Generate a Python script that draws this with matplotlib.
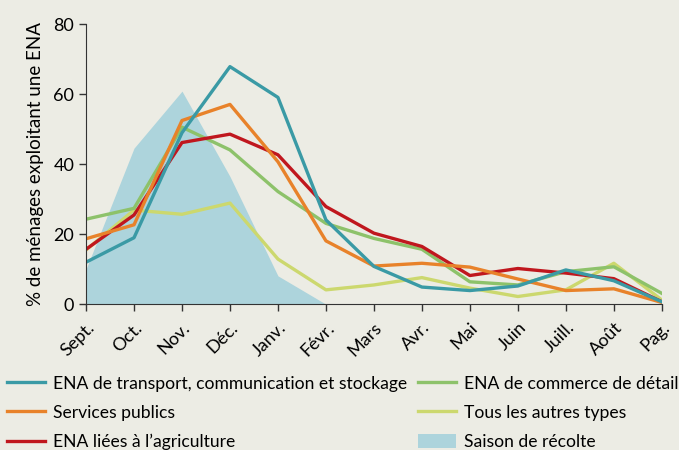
import matplotlib
matplotlib.use('Agg')
import matplotlib.pyplot as plt

plt.rcParams['font.family'] = ['Lato', 'DejaVu Sans']

# Months of the year plus "Pag." (paddy season?)
mois = ['Sept.', 'Oct.', 'Nov.', 'Déc.', 'Janv.', 'Févr.', 'Mars', 'Avr.',
        'Mai', 'Juin', 'Juill.', 'Août', 'Pag.']

# % of households running a non-agricultural enterprise (ENA), by type
transport = [12.0, 19.0, 49.0, 67.9, 59.1, 24.1, 10.8, 4.9, 3.9, 5.2, 9.8, 6.7, 0.7]
services = [18.7, 22.7, 52.5, 57.1, 40.7, 18.1, 10.9, 11.7, 10.6, 7.2, 3.9, 4.4, 0.5]
agriculture = [15.7, 25.5, 46.2, 48.6, 42.7, 27.9, 20.3, 16.5, 8.2, 10.2, 8.9, 7.3, 0.7]
commerce = [24.3, 27.4, 50.6, 44.1, 32.2, 23.1, 18.8, 15.7, 6.4, 5.5, 9.3, 10.7, 3.1]
autres = [15.5, 26.9, 25.7, 28.9, 12.9, 4.1, 5.5, 7.6, 4.6, 2.2, 4.1, 11.7, 1.2]
# harvest season (shaded area)
recolte = [10.0, 44.6, 60.9, 36.5, 8.1, 0, 0, 0, 0, 0, 0, 0, 0]

bg = '#ecece4'
fig = plt.figure(figsize=(6.79, 4.5), dpi=100, facecolor=bg)
ax = fig.add_axes([0.1267, 0.324, 0.848, 0.622], facecolor=bg)

x = list(range(len(mois)))
area = ax.fill_between(x, recolte, 0, color='#add4dc', lw=0, label='Saison de récolte')
l1, = ax.plot(x, transport, color='#3a9aa5', lw=2.4, label='ENA de transport, communication et stockage')
l2, = ax.plot(x, services, color='#e8822a', lw=2.4, label='Services publics')
l3, = ax.plot(x, agriculture, color='#c0171e', lw=2.4, label='ENA liées à l’agriculture')
l4, = ax.plot(x, commerce, color='#8dc26a', lw=2.4, label='ENA de commerce de détail')
l5, = ax.plot(x, autres, color='#ccd86e', lw=2.4, label='Tous les autres types')
# draw order as in the original (green and yellow under the others)
l4.set_zorder(2.1); l5.set_zorder(2.0); l3.set_zorder(2.2); l2.set_zorder(2.3); l1.set_zorder(2.4)

ax.set_xlim(0, 12)
ax.set_ylim(0, 80)
ax.set_yticks([0, 20, 40, 60, 80])
ax.set_xticks(x)
ax.set_xticklabels(mois, rotation=45, ha='right', rotation_mode='anchor')
ax.tick_params(colors='#333333', labelcolor='black', labelsize=13, length=5, width=1)
ax.tick_params(axis='x', pad=6)
for s in ['top', 'right']:
    ax.spines[s].set_visible(False)
for s in ['left', 'bottom']:
    ax.spines[s].set_color('#333333')
ax.set_ylabel('% de ménages exploitant une ENA', fontsize=13.5, labelpad=7)

# two legend columns placed separately, like the original
leg_kw = dict(loc='upper left', frameon=False, fontsize=12.6, handlelength=2.2,
              handletextpad=0.45, labelspacing=0.74, borderaxespad=0.0,
              borderpad=0.0, handleheight=0.9)
col1 = [l1, l2, l3]
col2 = [l4, l5, area]
fig.legend(handles=col1, labels=[h.get_label() for h in col1],
           bbox_to_anchor=(0.0103, 0.166), **leg_kw)
fig.legend(handles=col2, labels=[h.get_label() for h in col2],
           bbox_to_anchor=(0.6156, 0.166), **leg_kw)

fig.savefig('out.png', dpi=100, facecolor=bg)
